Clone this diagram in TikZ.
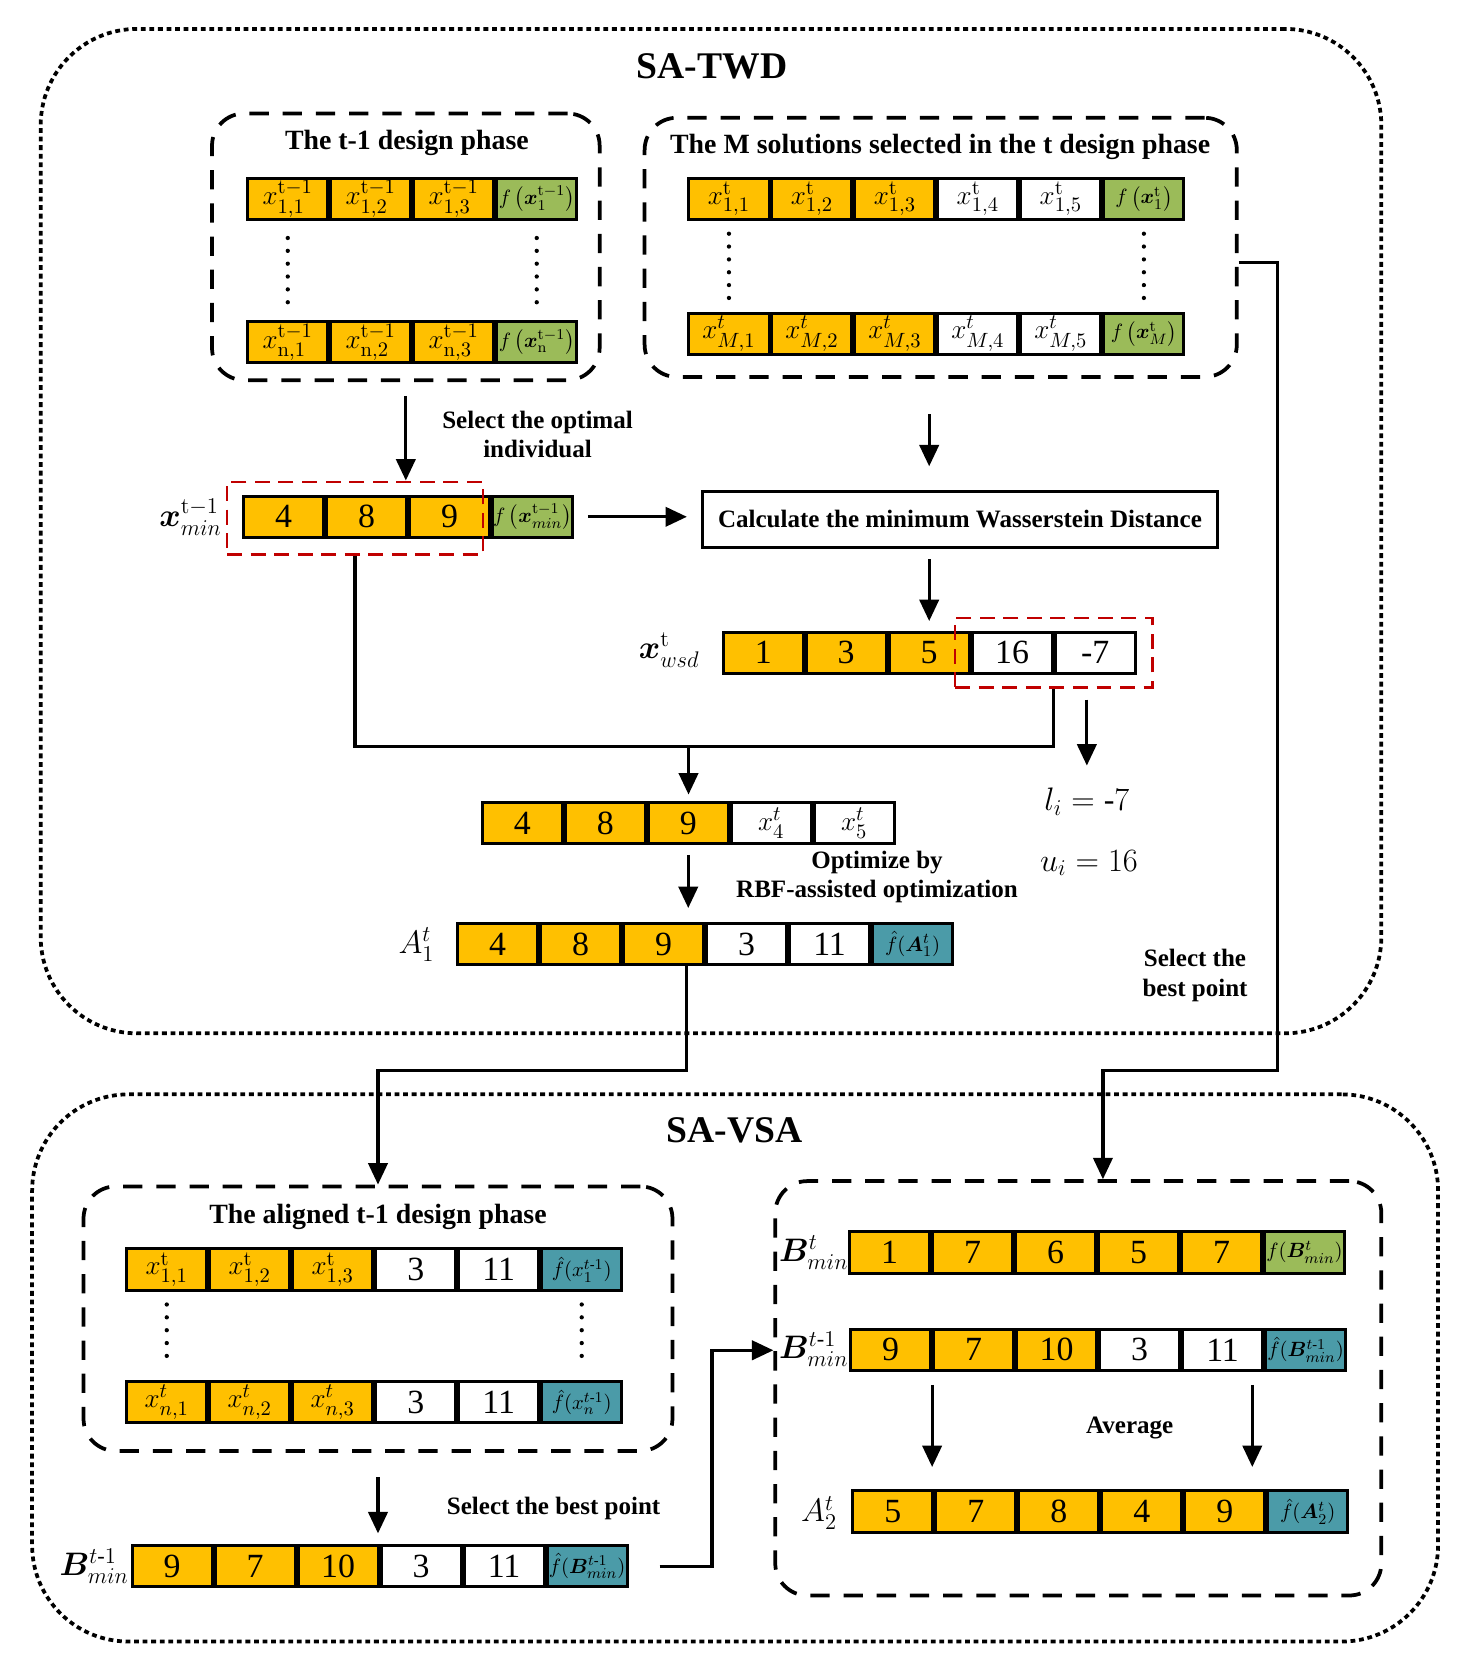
\documentclass[tikz,border=0pt]{standalone}
\usepackage{amsmath}
\usepackage{bm}
\usepackage[no-math]{fontspec}
\setmainfont{Liberation Serif}
\usepackage{tikz}
\usetikzlibrary{arrows.meta,positioning}
\definecolor{cOrange}{RGB}{255,192,0}
\definecolor{cGreen}{RGB}{155,187,89}
\definecolor{cTeal}{RGB}{75,155,168}
\definecolor{cRed}{RGB}{192,0,0}
\newcommand{\cellfont}{\fontsize{18}{20}\selectfont}
\newcommand{\mathfont}{\fontsize{15.5}{17}\selectfont}
\newcommand{\ffont}{\fontsize{11}{12}\selectfont}
\newcommand{\lblfont}{\fontsize{13.3}{15.5}\selectfont\bfseries}
\newcommand{\phasefont}{\fontsize{14.8}{17}\selectfont\bfseries}
\newcommand{\symfont}{\fontsize{17}{19}\selectfont}
\tikzset{
	cell/.style={draw=black, line width=0.55mm, minimum width=14.95mm,
		minimum height=7.7mm, inner sep=0pt, font=\cellfont},
	grpbox/.style={draw=black, line width=0.7mm, dash pattern=on 3.6mm off 2.6mm,
		rounded corners=6mm},
	outbox/.style={draw=black, line width=0.7mm, dash pattern=on 0.9mm off 0.7mm,
		rounded corners=18mm},
	redbox/.style={draw=cRed, line width=0.5mm, dash pattern=on 2.8mm off 1.6mm},
	calcbox/.style={draw=black, line width=0.6mm, font=\lblfont},
	arr/.style={-{Triangle[length=4mm,width=3.6mm]}, line width=0.6mm},
	conn/.style={line width=0.6mm},
	vdots/.style={line width=0.8mm, dash pattern=on 0pt off 2.4mm, line cap=round},
	lbl/.style={font=\lblfont, align=center},
	phase/.style={font=\phasefont},
	ttl/.style={font=\fontsize{20}{24}\selectfont\bfseries},
	sym/.style={font=\symfont},
}
% one row of cells: [options]{name}{top left}{fill/text,...}
\newcommand{\cellrow}[4][]{%
	\foreach \cfill/\ctext [count=\k] in {#4}{%
		\ifnum\k=1
			\node[cell,#1,fill=\cfill,anchor=north west] (#2-\k) at (#3) {\ctext};
		\else
			\pgfmathtruncatemacro{\kprev}{\k-1}
			\node[cell,#1,fill=\cfill,right=0pt of #2-\kprev] (#2-\k) {\ctext};
		\fi}}

\begin{document}
\begin{tikzpicture}[x=0.2mm,y=-0.2mm]
	\useasboundingbox (0,0) rectangle (1371,1568);

	% outer frames
	\node[outbox,minimum width=250.4mm,minimum height=187.6mm] (twd) at (664,496) {};
	\node[outbox,minimum width=262.6mm,minimum height=102.2mm] (vsa) at (686.5,1277.5) {};
	\node[ttl] (twdttl) at (665,62) {SA-TWD};
	\node[ttl] (vsattl) at (686,1056) {SA-VSA};

	% phase frames
	\node[grpbox,minimum width=72.4mm,minimum height=49.8mm] (tprev) at (379,230.5) {};
	\node[grpbox,minimum width=110.6mm,minimum height=48.4mm] (msel) at (878.5,231) {};
	\node[grpbox,minimum width=110mm,minimum height=49.4mm] (alig) at (353,1231.5) {};
	\node[grpbox,minimum width=113.2mm,minimum height=77.4mm] (avgbox) at (1007,1296.5) {};
	\node[phase] (tprevttl) at (380,133) {The t-1 design phase};
	\node[phase] (mselttl) at (878,137) {The M solutions selected in the t design phase};
	\node[phase] (aligttl) at (353,1136) {The aligned t-1 design phase};

	% SA-TWD rows
	\cellrow[font=\mathfont]{tp1}{230,165}{cOrange/{$x^{\mathrm{t-1}}_{1,1}$}, cOrange/{$x^{\mathrm{t-1}}_{1,2}$},
		cOrange/{$x^{\mathrm{t-1}}_{1,3}$}, cGreen/{\ffont$f\left(\bm{x}^{\mathrm{t-1}}_{1}\right)$}}
	\cellrow[font=\mathfont]{tpn}{230,299}{cOrange/{$x^{\mathrm{t-1}}_{\mathrm{n},1}$}, cOrange/{$x^{\mathrm{t-1}}_{\mathrm{n},2}$},
		cOrange/{$x^{\mathrm{t-1}}_{\mathrm{n},3}$}, cGreen/{\ffont$f\left(\bm{x}^{\mathrm{t-1}}_{\mathrm{n}}\right)$}}
	\cellrow[font=\mathfont]{m1}{642,165}{cOrange/{$x^{\mathrm{t}}_{1,1}$}, cOrange/{$x^{\mathrm{t}}_{1,2}$},
		cOrange/{$x^{\mathrm{t}}_{1,3}$}, white/{$x^{\mathrm{t}}_{1,4}$}, white/{$x^{\mathrm{t}}_{1,5}$},
		cGreen/{\ffont$f\left(\bm{x}^{\mathrm{t}}_{1}\right)$}}
	\cellrow[font=\mathfont]{mM}{642,291}{cOrange/{$x^{t}_{M,1}$}, cOrange/{$x^{t}_{M,2}$},
		cOrange/{$x^{t}_{M,3}$}, white/{$x^{t}_{M,4}$}, white/{$x^{t}_{M,5}$},
		cGreen/{\ffont$f\left(\bm{x}^{\mathrm{t}}_{M}\right)$}}
	\cellrow{xmin}{226,462}{cOrange/4, cOrange/8, cOrange/9,
		cGreen/{\ffont$f\left(\bm{x}^{\mathrm{t-1}}_{min}\right)$}}
	\cellrow{wsd}{674,589}{cOrange/1, cOrange/3, cOrange/5, white/16, white/-7}
	\cellrow{mid}{449,748}{cOrange/4, cOrange/8, cOrange/9, white/{\mathfont$x^t_4$}, white/{\mathfont$x^t_5$}}
	\cellrow{a1}{426,861}{cOrange/4, cOrange/8, cOrange/9, white/3, white/11,
		cTeal/{\ffont$\hat{f}(\bm{A}^t_1)$}}

	% SA-VSA rows
	\cellrow[font=\mathfont]{al1}{117,1165}{cOrange/{$x^{\mathrm{t}}_{1,1}$}, cOrange/{$x^{\mathrm{t}}_{1,2}$},
		cOrange/{$x^{\mathrm{t}}_{1,3}$}, white/{\cellfont 3}, white/{\cellfont 11},
		cTeal/{\ffont$\hat{f}(x^{t\text{-}1}_{1})$}}
	\cellrow[font=\mathfont]{aln}{117,1289}{cOrange/{$x^{t}_{n,1}$}, cOrange/{$x^{t}_{n,2}$},
		cOrange/{$x^{t}_{n,3}$}, white/{\cellfont 3}, white/{\cellfont 11},
		cTeal/{\ffont$\hat{f}(x^{t\text{-}1}_{n})$}}
	\cellrow{bprev}{122,1442}{cOrange/9, cOrange/7, cOrange/10, white/3, white/11,
		cTeal/{\ffont$\hat{f}(\bm{B}^{t\text{-}1}_{min})$}}
	\cellrow{bt}{792,1149}{cOrange/1, cOrange/7, cOrange/6, cOrange/5, cOrange/7,
		cGreen/{\ffont$f(\bm{B}^{t}_{min})$}}
	\cellrow{bt1}{793,1240}{cOrange/9, cOrange/7, cOrange/10, white/3, white/11,
		cTeal/{\ffont$\hat{f}(\bm{B}^{t\text{-}1}_{min})$}}
	\cellrow{a2}{795,1391}{cOrange/5, cOrange/7, cOrange/8, cOrange/4, cOrange/9,
		cTeal/{\ffont$\hat{f}(\bm{A}^t_2)$}}

	% row labels
	\node[sym] (xminlab) at (178,483) {$\bm{x}^{\mathrm{t-1}}_{min}$};
	\node[sym] (wsdlab) at (625,607) {$\bm{x}^{\mathrm{t}}_{wsd}$};
	\node[sym] (a1lab) at (389,882) {$A^{t}_{1}$};
	\node[sym] (bprevlab) at (88,1463) {$\bm{B}^{t\text{-}1}_{min}$};
	\node[sym] (btlab) at (760,1170) {$\bm{B}^{t}_{min}$};
	\node[sym] (bt1lab) at (760,1260) {$\bm{B}^{t\text{-}1}_{min}$};
	\node[sym] (a2lab) at (765,1413) {$A^{t}_{2}$};
	\node[sym] (li) at (1015,749) {$l_i = \text{-}7$};
	\node[sym] (ui) at (1017,806) {$u_i = 16$};

	% red selections
	\node[redbox,minimum width=47.8mm,minimum height=13.6mm] (xminred) at (331.5,484) {};
	\node[redbox,minimum width=36.8mm,minimum height=13mm] (wsdred) at (984,609.5) {};

	% Wasserstein step
	\node[calcbox,minimum width=96.2mm,minimum height=10.4mm] (calc) at (896.5,485)
		{Calculate the minimum Wasserstein Distance};

	% step labels
	\node[lbl] (selopt) at (502,406) {Select the optimal\\individual};
	\node[lbl] (optby) at (819,819) {Optimize by\\RBF-assisted optimization};
	\node[lbl] (selbest) at (1116,911) {Select the\\best point};
	\node[lbl] (selbestb) at (517,1409) {Select the best point};
	\node[lbl] (avg) at (1055,1334) {Average};

	% dots between rows
	\draw[vdots,shorten <=3.2mm,shorten >=3.2mm] (tp1-1.south) -- (tpn-1.north);
	\draw[vdots,shorten <=3.2mm,shorten >=3.2mm] (tp1-4.south) -- (tpn-4.north);
	\draw[vdots,shorten <=2.4mm,shorten >=2.4mm] (m1-1.south) -- (mM-1.north);
	\draw[vdots,shorten <=2.4mm,shorten >=2.4mm] (m1-6.south) -- (mM-6.north);
	\draw[vdots,shorten <=2.4mm,shorten >=2.4mm] (al1-1.south) -- (aln-1.north);
	\draw[vdots,shorten <=2.4mm,shorten >=2.4mm] (al1-6.south) -- (aln-6.north);

	% SA-TWD arrows
	\draw[arr] ([yshift=-2.6mm]tprev.south) -- (tprev.south |- xminred.north);
	\draw[arr,shorten <=2.6mm,shorten >=2.6mm] (xmin-4.east) -- (xmin-4.east -| calc.west);
	\draw[arr,shorten <=6.6mm,shorten >=4.4mm] (msel.south -| wsd-3) -- (calc.north -| wsd-3);
	\draw[arr,shorten <=2mm,shorten >=1.8mm] (calc.south -| wsd-3) -- (wsd-3.north);
	\coordinate (jn) at (643,697);
	\draw[conn] (xminred.south) |- (jn) -| (wsdred.south);
	\draw[arr,shorten >=1.2mm] (jn) -- (jn |- mid-3.north);
	\draw[arr,shorten <=2mm,shorten >=3mm] (wsdred.south -| li.north) -- (li.north);
	\draw[arr,shorten <=1.8mm,shorten >=2.6mm] (mid-3.south) -- (mid-3.south |- a1-3.north);

	% SA-TWD -> SA-VSA
	\coordinate (bA) at (641,1000);
	\draw[arr] (a1-3.south -| bA) -- (bA) -| (alig.north);
	\coordinate (bB) at (1193,1000);
	\draw[arr] ([yshift=-2.8mm]msel.east) -| (bB) -| ([xshift=4.6mm]avgbox.north);

	% SA-VSA arrows
	\draw[arr,shorten <=4.6mm,shorten >=2mm] (alig.south) -- (alig.south |- bprev-3.north);
	\coordinate (bC) at (665,1261);
	\draw[arr,shorten <=5.8mm] (bprev-6.east) -| (bC) -- (avgbox.west |- bC);
	\coordinate (avgR) at ([xshift=-2.2mm]bt1-5.south east);
	\draw[arr,shorten <=2.4mm,shorten >=4.2mm] (bt1-1.south east) -- (bt1-1.south east |- a2-1.north);
	\draw[arr,shorten <=2.4mm,shorten >=4.2mm] (avgR) -- (avgR |- a2-5.north);
\end{tikzpicture}
\end{document}
